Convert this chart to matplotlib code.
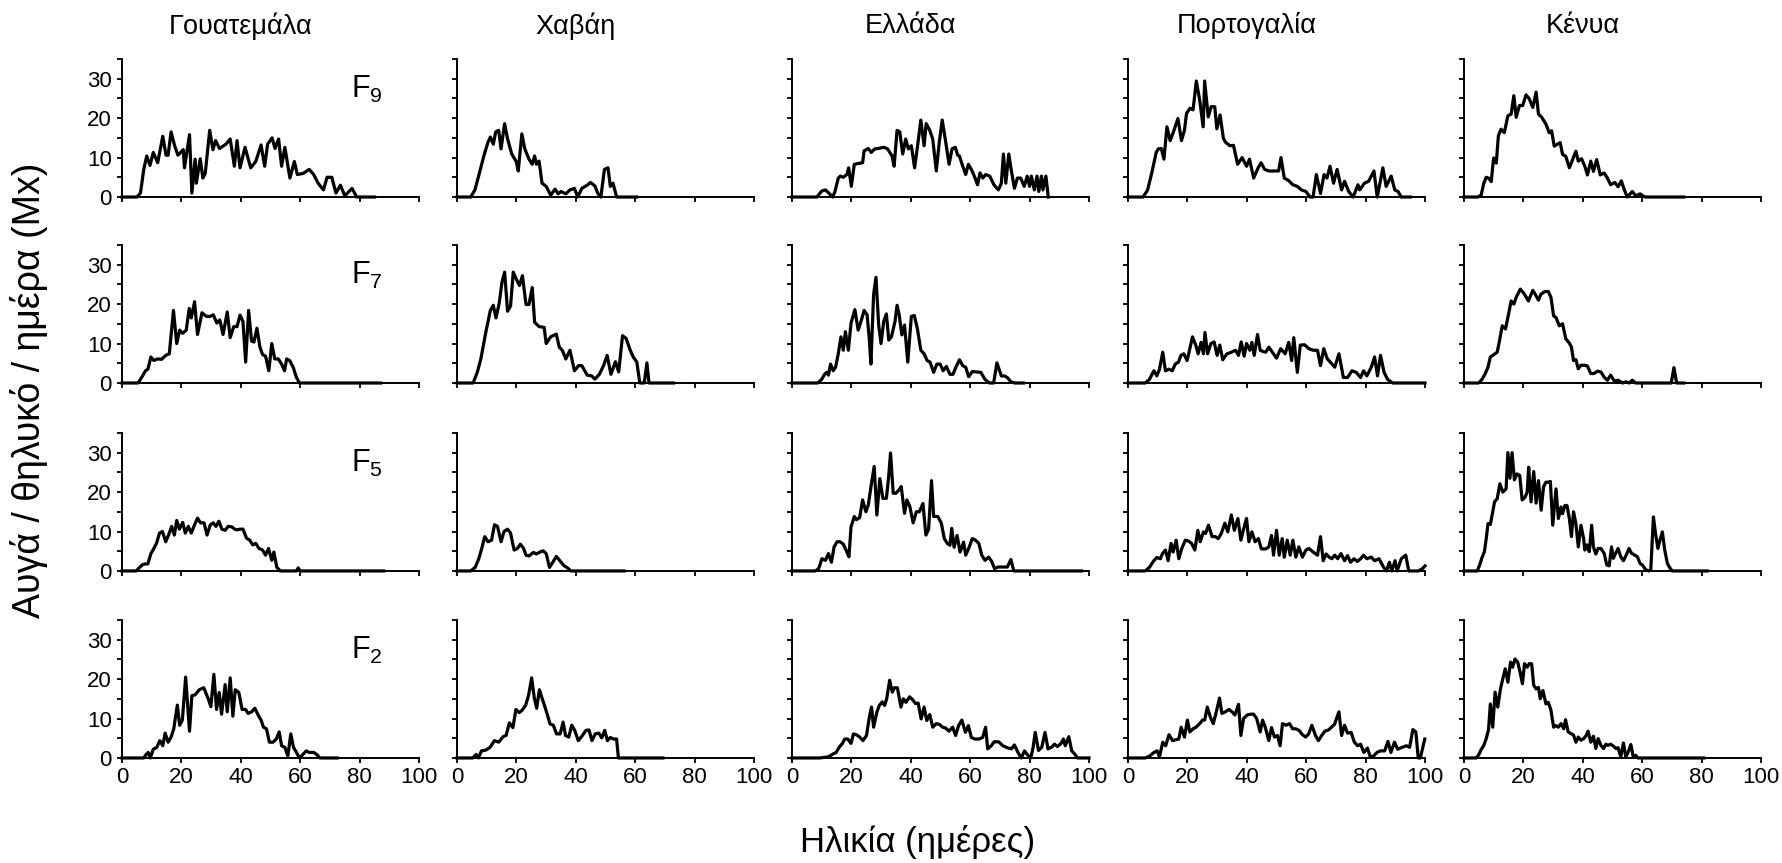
import numpy as np
import matplotlib
matplotlib.use('Agg')
import matplotlib.pyplot as plt

plt.rcParams['font.family'] = ['Liberation Sans', 'DejaVu Sans']

# Column titles (countries) and row labels (generations)
countries = ['Γουατεμάλα', 'Χαβάη', 'Ελλάδα', 'Πορτογαλία', 'Κένυα']
generations = ['9', '7', '5', '2']
x_ticks = [0, 20, 40, 60, 80, 100]
y_ticks = [0, 5, 10, 15, 20, 25, 30, 35]
y_tick_labels = ['0', '', '10', '', '20', '', '30', '']

# (age in days, eggs / female / day)
gua_f9 = [(0,0),(5,0),(6.2,1),(7.3,7),(8.3,10.4),(9.4,8),(10.5,11.3),(12,8.7),(13.7,15.4),(14.8,10.6),(15.5,10.6),(16.5,16.5),(17.7,13),(18.8,10.6),(20.6,12),(21,7.4),(22.7,15.8),(23.5,1),(24.6,9.6),(25,3.5),(26.3,9.7),(27.2,4.8),(28,6),(29.5,16.9),(30.6,12),(31.5,14.3),(32.8,12.3),(35,13.4),(36.4,14.7),(37.8,7.8),(38.7,14.3),(39.7,7.4),(41.4,12.6),(43.3,7.4),(45,9),(46.8,13.2),(48,7.8),(49,13.4),(50.5,15),(51.5,12.3),(52.7,14.7),(53.7,7.8),(54.8,12.6),(56.5,4.8),(58,9),(59,5.7),(61,6),(63,7),(64.5,5.7),(66,3.5),(67.8,1.8),(69,5),(70.6,5),(72,1),(73.5,3),(75,0.3),(77.4,2.2),(79,0),(85,0)]
haw_f9 = [(0,0),(4.6,0),(6,1.8),(7.5,6),(9,10.4),(10.4,13.9),(11.2,15.2),(12.2,13.4),(13,16.5),(14,16.9),(14.8,12.2),(16,18.6),(17,14.7),(18.4,10.9),(19.9,9),(20.6,6.6),(21.8,16),(22.8,12.2),(24.2,9.6),(25.3,8.3),(26.1,10.4),(26.7,8.3),(27.6,9.1),(28.6,3.5),(30,2.7),(31.5,0.5),(33,2),(34,0.8),(35,1.4),(36.6,0.8),(38,1.8),(39.5,2.2),(40.6,0),(42,2.2),(43.8,3),(44.9,3.7),(46.4,2.8),(47.4,0.9),(48.4,0),(49.6,7),(50.8,7.4),(51.6,2.7),(52.5,3.5),(53.7,0),(60.5,0)]
gre_f9 = [(0,0),(8.4,0),(10,1.5),(11.3,1.8),(12.7,0.8),(13.7,0),(14.5,1.4),(15.6,4.8),(16.3,5.3),(17.3,5),(18.5,5.7),(19.1,7.4),(20,2.7),(21,8.3),(22.4,8.5),(23.8,8.7),(24.3,11.7),(25.7,12.3),(26.7,11.3),(27.9,12.2),(29,12.3),(31,12.6),(32.2,12.2),(33.7,10.4),(34.4,7.8),(35.4,16.9),(36.3,16.5),(37.3,10.9),(38.3,14.7),(39.2,12.2),(40.2,13),(41.3,7.4),(42.3,13),(43.4,19.5),(44.5,13),(45.2,18.6),(46.4,16.9),(47.4,14.7),(48.6,6.6),(49.6,13.9),(50.6,19.5),(51.7,14.3),(52.9,8.3),(53.9,12.2),(55,12.6),(55.8,10.6),(56.4,10.4),(57.5,7.8),(58.5,5.7),(59.4,8.3),(60.4,7),(61.4,5.3),(62.5,3.1),(63.3,6.1),(64.3,4.8),(65.2,5.7),(66.6,5.3),(68,3.1),(69.5,1.8),(70.5,3.5),(71.2,10.9),(72,3.5),(73,10.9),(73.8,7),(74.9,2.2),(75.9,4.8),(77,4.8),(78.2,2.7),(79.2,5.3),(80,2.7),(80.6,5.3),(81.6,1.8),(82.5,5.3),(83.1,1.4),(84,5.3),(84.5,1.8),(85.5,5.3),(86.3,0)]
por_f9 = [(0,0),(5.1,0),(6.6,1.8),(8,6.1),(9.5,11.3),(10.2,12.2),(11.2,12.3),(12.1,9.6),(13.1,17.8),(14.2,14.3),(15.3,16.5),(16.8,19.9),(18,14.3),(19,16.9),(19.7,21.2),(20.9,22.5),(21.9,22.1),(23,29.4),(24.1,24.7),(25.3,17.8),(25.8,29.4),(27,20.3),(28,22.9),(29.2,22.9),(29.9,17.3),(31,20.8),(32.1,14.9),(32.8,13.9),(34.3,13),(35.5,13.1),(36.9,8.3),(38.4,10),(39.9,7.8),(40.9,9.6),(42.3,4.8),(43.8,7.4),(44.8,8.7),(46,7),(47.4,6.6),(49.6,6.6),(50.7,6.6),(51.5,10),(52.6,4.8),(54,4.2),(55.5,3.1),(57,2.7),(58.4,1.8),(59.9,1.4),(61.3,0),(62.3,0),(63.4,5.7),(64.8,0.9),(66,5.7),(67,4.8),(68,7.8),(69.2,3.5),(70.4,7),(71.9,1.8),(72.9,4),(74.3,1.4),(75.8,0),(77.4,3.1),(78,1.8),(79.6,3.5),(81,4),(82.8,6.6),(83.9,0),(85.8,7.4),(86.9,2.7),(88.6,5.3),(89.8,1.8),(90.9,1.4),(92,0),(95,0)]
ken_f9 = [(0,0),(4.7,0),(5.8,0.5),(6.7,3.5),(7.5,5),(8.3,4.8),(9.2,3.9),(10,9.9),(10.9,8.6),(11.6,15.5),(12.5,17.2),(13.6,16.3),(14.8,20.6),(15.9,21),(16.8,25.7),(17.6,20.2),(18.7,23.2),(19.8,23.2),(20.9,25.9),(22,24.9),(23.2,22.7),(24.3,26.6),(25.1,21),(26.2,20.2),(27.6,18.5),(28.7,16.3),(29.5,16.8),(30.4,12.9),(31.3,13.3),(32.4,13.8),(33.2,10.8),(34.3,10.3),(35.5,7.4),(36.6,9.5),(37.7,11.6),(38.5,9.1),(39.6,9.7),(40.7,7.8),(41.6,5.6),(42.7,9.1),(43.6,6.5),(44.7,9.5),(45.9,5.6),(47.2,6.1),(48.3,4.8),(49.4,3.1),(50.8,3.7),(51.9,2.6),(53,4.1),(53.9,2),(55,0),(56.7,1.4),(57.8,0.3),(59.3,0.8),(60.9,0),(74,0)]

gua_f7 = [(0,0),(5.4,0),(6.9,1.8),(7.9,3.1),(8.7,3.5),(9.7,6.6),(10.7,5.7),(11.9,6.1),(13.3,6),(14.7,7),(15.9,7.4),(17.3,18.4),(18.4,10),(19.4,13.4),(20.4,12.6),(21.6,13.4),(22.6,18.9),(23.3,16.5),(24.4,20.6),(25.4,12.3),(26.9,17.8),(28.3,16.9),(29.7,16.9),(30.7,17.3),(31.9,15.2),(32.9,16),(34,12.3),(35.4,18),(36.4,11.5),(37.6,14.3),(38.7,14.3),(39.7,17.2),(40.7,15.6),(41.6,5.3),(42.6,18.4),(43.6,10.6),(44.4,10.4),(45.4,13.9),(46.4,9.1),(47.3,7.2),(48.3,6.8),(49.4,3.1),(50.4,10),(51.4,6.1),(52.6,6.1),(53.7,4.8),(54.7,3.1),(55.4,6.1),(56.4,5.7),(57.6,4),(58.7,1.4),(59.7,0),(87,0)]
haw_f7 = [(0,0),(5.4,0),(6.8,2.7),(8,6.1),(9.7,13),(11.2,18.4),(12.2,19.7),(13.1,16.5),(14.2,20.3),(15.1,25.5),(16,28.1),(17,18.2),(18,19.5),(18.9,28.1),(19.9,26.4),(21,24.7),(22,27.2),(23.2,19.9),(24.2,19.9),(25.3,24.2),(26.1,15.4),(27.6,14.3),(29.3,14.1),(30,10),(31.5,11.7),(33.4,12.4),(34.4,9.1),(35.4,8.3),(36.6,6.1),(38,8.3),(39.5,3.1),(40.9,4.4),(42,4.4),(43.8,2),(45.3,1.8),(46.4,1),(47.9,2.2),(49.3,4.4),(50.5,7),(51.8,2.2),(53.3,5.4),(54.4,2.8),(55.7,12),(56.9,11.3),(58.3,8.3),(59.3,6.6),(60.5,5.3),(61.5,0),(63,0),(63.9,5.1),(64.6,0),(72.9,0)]
gre_f7 = [(0,0),(8.7,0),(10,0.9),(11,2.2),(11.7,2.7),(12.3,2),(13,4.8),(13.9,3.1),(14.7,4),(15.6,7.4),(16.5,11.7),(17.3,8.3),(18,13),(19,8.3),(19.9,15.2),(21.2,18.6),(22.3,13.4),(23.4,16),(24.3,18.4),(25.3,17.3),(26,11.7),(26.6,4.8),(27.5,22.5),(28.3,26.8),(29.2,14.7),(30,10),(30.9,15.6),(31.8,17.5),(32.6,10.9),(33.5,11.7),(34.7,15.6),(35.4,19.7),(36.1,17.3),(37,12.2),(37.9,14.7),(39,5.3),(40.2,16.9),(41.2,17.1),(42.2,13.9),(43.4,8.3),(44.5,7.4),(45.5,5.7),(46.5,5.3),(47.7,2.7),(48.8,4.8),(49.9,4.8),(50.9,3.1),(52,4.2),(53.2,2.2),(54.2,2.2),(55.2,4),(56.4,5.9),(57.5,4.4),(58.5,4),(59.5,1.6),(60.7,2.9),(62.1,2.8),(63.6,2.7),(65,0.9),(66.5,0),(67.9,0),(69,5.1),(70.5,1.8),(71.5,1.8),(72.5,1.4),(73.7,0.3),(75,0),(78,0)]
por_f7 = [(0,0),(5.8,0),(7.2,0.9),(8.7,3.1),(9.7,1.8),(10.6,3.5),(11.7,7.8),(12.6,3.1),(13.8,3.5),(14.9,3.1),(15.9,4.8),(17,5.3),(17.8,7),(18.8,7.4),(19.9,5.7),(20.7,8.3),(21.7,11.7),(22.8,9.6),(23.6,7.4),(24.6,10.3),(25.4,7.4),(25.9,12.8),(26.8,7.4),(27.9,10),(29,10.4),(30,7),(30.9,9.6),(31.9,5.9),(33.3,7.4),(34.8,7.8),(36.2,8.3),(37.2,7),(38.1,10.4),(39.1,6.8),(39.9,10),(41,8.3),(41.7,10.3),(42.5,7),(43.6,12.3),(44.5,8.3),(45.4,8),(46.4,7.8),(47.4,9.1),(48.6,7.8),(50,6.3),(51.4,8.7),(52.9,7.4),(54.1,10.3),(55.1,5.7),(55.8,11.5),(57,2.7),(58,9.6),(59.4,9.7),(60.9,8.7),(62.3,8.3),(63.8,8.3),(64.8,4.4),(65.9,8.7),(67.1,6.1),(68.1,5.3),(69.6,4),(71,7.4),(72.5,1.4),(73.9,1.4),(75.4,3.1),(76.8,2.7),(78.3,1.4),(79.3,3.1),(80.4,1.8),(81.9,4),(83,6.6),(84,1.8),(85,7),(86.2,2.7),(87.4,0.9),(89.1,0),(100,0)]
ken_f7 = [(0,0),(4.9,0),(6,0.8),(7.2,2.4),(8.1,4),(8.9,6.6),(10.1,7.2),(11.2,7.8),(12,10.8),(12.9,14.5),(14,13.7),(14.8,16.6),(15.9,20.8),(16.8,20),(17.6,21.7),(19,23.8),(20.4,22.5),(21.7,20.8),(23.2,23.5),(24,22.5),(25.1,21),(25.9,22.5),(27.3,23.2),(28.4,23.2),(29.3,21.7),(30.2,17),(31,16.6),(32.1,14.5),(33.2,15),(34.3,11.2),(35.5,10.1),(36.2,9.1),(36.9,5.7),(37.7,5.9),(38.5,3.6),(39.4,4.5),(40.7,4.5),(41.6,4.3),(42.7,2.4),(43.8,2.4),(45,3),(46.1,2.8),(47.2,1.5),(48.3,0.7),(49.4,2),(50.6,0.5),(51.9,0.7),(53.4,0),(54.5,0.3),(55.6,0),(56.7,0.7),(57.8,0),(69.8,0),(70.7,3.9),(71.6,0),(74,0)]

gua_f5 = [(0,0),(4.7,0),(5.9,0.9),(6.9,1.6),(7.9,1.8),(8.7,1.8),(9.7,4.4),(10.7,5.7),(11.6,7),(12.6,9.6),(13.6,10),(14.7,7.4),(15.9,9.6),(16.7,11.3),(17.6,9.1),(18.4,12.8),(19.3,10.6),(20.4,12.3),(21.3,9.6),(22.3,11.3),(23.3,9.6),(24.4,11.7),(25.4,13.4),(26.4,12.2),(27.6,12.2),(28.6,9.1),(29.7,11.7),(30.7,12.2),(31.6,11.3),(32.6,12.6),(33.6,10.6),(34.7,10.3),(35.7,11.3),(36.9,11.2),(37.9,10.6),(38.7,10.4),(39.7,10.6),(40.7,10.6),(41.9,8.3),(43,7.8),(44,6.6),(45,7),(46.1,5.7),(47.3,5.3),(48.3,4),(49.3,5.7),(50.4,2.7),(51.1,4.8),(52.1,0.9),(53.3,0),(58.7,0),(59.3,0.8),(59.9,0),(88,0)]
haw_f5 = [(0,0),(4.6,0),(6.1,0.9),(7.3,3.1),(8.3,5.7),(9.3,8.7),(10.4,7.4),(11.6,7.8),(12.6,11.7),(13.6,11.3),(14.8,7.4),(15.8,10),(17,10.6),(18,9.6),(19.2,5.3),(20.3,5.7),(21.3,6.8),(22.4,5.7),(23.2,4),(24.2,3.8),(25.7,4.7),(26.7,4.3),(27.9,4.8),(29,5.1),(30,4.4),(31.1,0.9),(32.2,2.2),(33.4,3.7),(34.5,2.7),(35.9,1.4),(37.3,0.7),(38.3,0),(56.2,0)]
gre_f5 = [(0,0),(7.9,0),(9,0.6),(10.1,3.1),(11.3,2.7),(12.3,4.4),(13.3,2.2),(14.2,6.1),(15.2,7.4),(16.2,7.4),(17.3,6.8),(18.5,4.8),(19.2,3.6),(19.9,11.2),(21,13.8),(21.7,13),(22.8,13.5),(23.8,18),(24.9,15),(25.7,16.7),(26.7,21.8),(27.7,26.5),(28.6,14.2),(29.6,23.4),(30.6,18.4),(31.8,18.4),(32.5,23.4),(33.2,29.9),(34.1,19.7),(35,19.7),(36.1,20.6),(36.8,21.4),(37.9,14.6),(38.7,18),(39.7,16.3),(40.8,12.2),(41.9,15),(42.9,15),(44.1,17.1),(45.1,9.1),(46,10.5),(47,22.9),(47.7,13.8),(49.1,13.8),(50.3,12.1),(51.3,8.2),(52.3,7),(53.2,6.5),(53.8,10.8),(54.6,6),(55.6,9),(56.6,4.8),(57.8,7.3),(58.5,4),(59.5,5.7),(60.7,8.2),(61.8,7.8),(62.9,7),(63.9,4),(65,2.7),(66.2,3.5),(67.2,2.5),(68.2,0.6),(69.4,1),(70.8,1),(72.5,1),(73.7,2.9),(74.7,0),(97.5,0)]
por_f5 = [(0,0),(5.8,0),(7.2,0.9),(8.7,2.6),(9.7,3.4),(10.9,3.1),(11.6,4.4),(12.6,5.3),(13.5,2.6),(14.5,7),(15.2,4.8),(16.2,7.8),(17.1,3.1),(18.1,5.7),(19.3,7.8),(20.3,7.6),(21.4,7),(22.5,5.3),(23.5,10.3),(24.3,7.4),(25.4,9.9),(26.1,9.5),(27.1,11.6),(28.3,8.7),(29.4,8.7),(30.4,8.2),(31.4,9.5),(32.6,12.1),(33.6,9.9),(34.8,14.2),(35.8,10.3),(37,13.3),(38,7.8),(38.8,10.3),(39.9,13.3),(40.7,7.4),(41.7,9.9),(42.8,7.4),(43.9,8.2),(44.9,5.6),(46.4,5.6),(47.4,6.1),(48.3,9),(49,4),(50,10.3),(50.9,4),(51.9,8.2),(52.6,3.5),(53.6,7.8),(54.6,4),(55.5,7.8),(56.5,3.5),(57.5,6.1),(58.7,3.5),(59.9,5.3),(60.9,5.7),(62.3,4.8),(63.8,4),(64.8,8.7),(65.7,2.6),(66.7,4.3),(67.7,3.5),(68.6,3.1),(69.6,4),(70.6,3.1),(71.7,4.4),(72.9,2.6),(73.9,3.9),(74.9,2.2),(76.1,3.1),(77.2,2.4),(78.3,3.1),(79.3,4),(80.4,3.1),(81.9,3.5),(83,2.6),(84.5,3.1),(86,1),(87,0),(88,2.2),(88.8,0),(89.9,2.6),(90.6,0),(92,3.1),(93.5,4),(94.5,0),(97.8,0),(99.3,0.7),(100,1.3)]
ken_f5 = [(0,0),(4.5,0),(5.3,1.5),(6,3.2),(6.9,4.9),(7.6,8.7),(8.1,12),(8.9,11.8),(9.7,15),(10.3,17.5),(11.2,18.3),(12.1,22.1),(13.1,20),(14.2,20.8),(14.8,30),(15.5,23.5),(16.2,30),(17,23.1),(17.9,24.6),(18.8,24.2),(19.6,18),(20.6,18.7),(21.3,20),(21.8,26.3),(22.6,17.5),(23.5,25.2),(24.3,17.2),(25.1,22.9),(26,15.4),(26.8,21.3),(27.6,22.5),(28.4,22.5),(29.1,22.7),(29.9,11.6),(31,20.8),(31.8,13.3),(32.7,16.2),(33.2,14.5),(34,16.6),(34.7,16.6),(35.5,13.3),(36.2,8.7),(36.9,15),(37.7,12),(38.5,6.1),(39.4,11.6),(40.3,8.2),(40.7,5.3),(41.4,6.6),(42.2,4.9),(43,11.6),(43.6,6.1),(44.4,4.3),(45.2,5.7),(46.1,5.7),(47.2,4.5),(48.1,1.5),(48.9,1.3),(49.7,6.1),(50.3,3.2),(51.1,4.5),(51.9,5.7),(52.8,3.6),(53.7,2.6),(54.5,3.8),(55.6,5.7),(56.4,4.5),(57.3,4.1),(58.4,3.6),(59.3,1.9),(60.1,1.5),(61.2,0.3),(62.3,0),(62.9,0.3),(63.8,13.7),(64.5,9.5),(65.3,5.7),(66,7.8),(66.8,9.9),(67.6,5.3),(68.5,1.9),(69.4,0.7),(70.1,0),(81.9,0)]

gua_f2 = [(0,0),(7.3,0),(8,0.8),(8.8,1.4),(9.5,0),(10.5,2.2),(11.7,2.7),(12.7,4.4),(13.7,3.1),(14.5,6.3),(15.5,4),(16.5,5.3),(17.4,7.4),(18.6,13.4),(19.4,8.3),(20.3,9.6),(21.4,20.5),(22.7,6.8),(23.5,15.8),(24.6,16),(26,17.3),(27.5,17.8),(28.9,15.2),(29.9,13),(30.9,21.2),(31.8,12.3),(32.7,16.6),(33.5,11.1),(34.7,18.6),(35.4,11.7),(36.4,20.3),(37.3,10.6),(38.1,17.3),(39.3,16.6),(40.4,12.3),(41.6,12.3),(42.4,11.3),(43.6,11.7),(44.7,12.6),(45.8,10.9),(46.8,9.6),(47.6,7.8),(48.6,7.4),(49.6,4),(50.8,4),(51.9,4.8),(52.9,6.6),(53.7,3.1),(54.8,2.7),(55.8,0.5),(56.8,6.1),(57.7,2.7),(58.7,1.4),(59.7,0),(60.9,0.9),(62,1.8),(63,1.4),(64.5,1.4),(65.5,0.9),(66.6,0),(72.4,0)]
haw_f2 = [(0,0),(5.3,0),(6.4,0.9),(7.2,0),(8.2,1.8),(9.7,2),(11.1,2.7),(12.6,4.4),(14,4),(15.5,5.4),(16.5,5.7),(17.6,8.9),(18.8,7.7),(19.8,12.3),(20.9,11.5),(21.9,12.1),(23.1,13.4),(24.1,16),(25.1,20.3),(26,15.2),(26.8,12.6),(27.7,17.3),(28.8,14.7),(29.9,12.2),(31.3,8.6),(32.4,8.3),(33.5,6.1),(34.7,6.1),(35.7,9.1),(36.5,5.7),(37.6,5.3),(38.6,8.3),(39.6,7),(40.8,4.4),(41.9,5.4),(43.4,7),(44.4,7.1),(45.4,4.4),(46.5,6.1),(47.7,6.3),(48.7,5.1),(49.7,7),(50.6,4.4),(51.6,5.2),(52.6,4.8),(53.7,4.8),(54.3,0),(69.3,0)]
gre_f2 = [(0,0),(9.4,0),(12.3,0.3),(13.8,1),(14.9,1.4),(15.9,2.7),(17,3.7),(17.8,4.8),(18.8,4.8),(19.9,3.7),(20.7,6.1),(21.7,5.9),(22.8,5.3),(23.9,4.4),(25.1,5.7),(26.1,10.5),(26.8,12.9),(27.5,7.8),(28.6,11.6),(29.4,13.3),(30.4,14.2),(31.2,13.3),(31.9,15),(32.9,19.7),(33.8,16.7),(34.5,17.8),(35.5,17.8),(36.7,12.9),(37.5,15),(38.4,14.1),(39.6,15.5),(40.6,14.8),(41.6,13.8),(42.5,13.9),(43.5,9.9),(44.5,12.9),(45.4,9.5),(46.4,11),(47.4,7.8),(48.6,8.7),(49.7,8.5),(50.7,7.8),(51.7,7.6),(52.9,6.8),(54.1,7.8),(55.1,5.7),(56.1,8.2),(57.2,9.6),(58.4,6.5),(59.4,8.2),(60.4,5.2),(61.6,4.8),(63,4.8),(64.2,5.2),(65.2,7.8),(65.9,2.3),(67.1,3.1),(68.1,4.1),(69.6,4.1),(71,3.1),(72.5,2.6),(73.9,2.3),(74.9,3.3),(76.1,1.4),(77.2,0),(78.3,1.8),(79.3,0.8),(80.4,0),(81.2,2.7),(81.9,6.5),(83,1.9),(84.1,2.7),(85.2,6.5),(86.2,2.3),(87.4,2.7),(88.4,3.5),(89.4,2.9),(90.6,3.7),(91.4,4.8),(92,3.1),(93.2,5.4),(94.2,1.8),(95.2,1),(96.1,0),(100,0)]
por_f2 = [(0,0),(5.8,0),(7.3,0.5),(8.7,1.4),(9.8,1.8),(10.6,0.3),(11.7,4),(12.7,3.1),(13.8,5.9),(15,4.4),(16,4.6),(17.1,4.8),(17.9,7.8),(19,5.3),(20,9.6),(20.8,6.6),(21.9,7.4),(22.9,7.8),(24.1,8.7),(25.1,9.6),(25.8,9.6),(26.7,12.9),(27.7,10.4),(28.7,8.7),(29.6,11.3),(30.8,15.2),(31.6,11.3),(32.8,11.7),(34,12.3),(35,11.7),(36,10.9),(37.2,13.6),(38,5.7),(38.9,10),(40.1,10.9),(41.3,11.1),(42.3,11.1),(43.3,10),(44.5,6.6),(45.3,9.6),(46.2,7.8),(47.4,4.4),(48.3,7.7),(49.3,5.3),(50.3,5.7),(51.2,3.1),(52,8.7),(53.2,8.3),(54.4,8.7),(55.4,7.4),(56.4,7.4),(57.6,7),(58.7,5.9),(59.8,5.3),(60.8,6.1),(61.9,8.3),(63.1,5.7),(64.1,4.4),(65.2,5.7),(66.3,6.8),(67.5,7.1),(68.5,7.8),(69.5,8.5),(71,11.7),(71.9,5.7),(72.9,8.3),(73.9,6.3),(75.1,6.5),(76.2,4),(77.3,3.1),(78.3,3.5),(79.4,1.4),(80.6,2.5),(81.6,0.2),(82.7,0.5),(83.8,1.4),(85,1.8),(86.4,1.8),(87.5,4.2),(88.5,1.4),(89.7,4),(90.8,2.2),(92.3,2.7),(93.7,3.1),(94.8,2.7),(95.9,7.2),(96.9,6.6),(97.7,0),(98.4,0),(99.9,4.8)]
ken_f2 = [(0,0),(4.1,0),(4.9,0.7),(5.8,2.1),(6.7,3.2),(7.5,4.9),(8.3,7.2),(8.9,13.7),(9.7,7.8),(10.5,16.7),(11.4,12.9),(12.3,17.5),(13.1,20.1),(13.9,22.6),(14.8,19.2),(15.7,24.3),(16.4,23),(17.2,25.1),(18.1,24.3),(18.9,21.8),(19.7,18.8),(20.4,23.9),(21.3,23),(22,23.9),(22.8,23.9),(23.5,18.4),(24.3,17.5),(25.1,17.9),(25.7,15),(26.6,17.1),(27.6,13.7),(28.4,14.1),(29.3,12.1),(30.2,7.8),(31,8.2),(31.8,7.8),(32.7,8.7),(33.6,7.4),(34.2,9.7),(35.1,6.6),(36,6.2),(36.9,5.8),(37.7,4),(38.5,5.3),(39.4,4.5),(40.3,4.9),(41.1,5.6),(41.8,6.8),(42.7,4),(43.6,5.5),(44.4,2.4),(45.2,4.9),(46.1,3.2),(47,2.4),(47.8,3.5),(48.5,3.2),(49.4,3.5),(50.3,3),(51.2,2.4),(51.9,2.6),(52.8,0.3),(53.7,3.8),(54.5,0.3),(55.3,1.5),(56.2,3.4),(57,0.3),(57.8,0.7),(58.6,0),(80.8,0)]

grid = [
    [gua_f9, haw_f9, gre_f9, por_f9, ken_f9],
    [gua_f7, haw_f7, gre_f7, por_f7, ken_f7],
    [gua_f5, haw_f5, gre_f5, por_f5, ken_f5],
    [gua_f2, haw_f2, gre_f2, por_f2, ken_f2],
]

fig = plt.figure(figsize=(17.82, 8.63), dpi=100)

# panel layout in figure fractions
lefts = [0.0685, 0.2565, 0.4444, 0.6330, 0.8215]
bottoms = [0.7717, 0.5562, 0.3384, 0.1217]
w, h = 0.1667, 0.1600

for r in range(4):
    for c in range(5):
        ax = fig.add_axes([lefts[c], bottoms[r], w, h])
        pts = np.array(grid[r][c])
        ax.plot(pts[:, 0], pts[:, 1], color='black', lw=2.3, clip_on=False, zorder=3)
        ax.set_xlim(0, 100)
        ax.set_ylim(0, 35)
        for s in ['top', 'right']:
            ax.spines[s].set_visible(False)
        for s in ['left', 'bottom']:
            ax.spines[s].set_linewidth(1.4)
        ax.set_xticks(x_ticks)
        ax.set_yticks(y_ticks)
        ax.tick_params(direction='out', length=3.5, width=1.3, labelsize=16)
        ax.tick_params(axis='y', pad=4)
        ax.tick_params(axis='x', pad=3)
        if c == 0:
            ax.set_yticklabels(y_tick_labels)
            ax.text(77, 25, r'F$_{\mathregular{%s}}$' % generations[r], fontsize=22)
        else:
            ax.set_yticklabels([])
        if r != 3:
            ax.set_xticklabels([])

for c in range(5):
    fig.text(lefts[c] + 0.4 * w, 0.97, countries[c], fontsize=19.5, ha='center', va='center')

fig.text(0.016, 0.548, 'Αυγά / θηλυκό / ημέρα (Mx)', rotation=90, fontsize=27, ha='center', va='center')
fig.text(0.515, 0.024, 'Ηλικία (ημέρες)', fontsize=25, ha='center', va='center')

fig.savefig('out.png', dpi=100)
